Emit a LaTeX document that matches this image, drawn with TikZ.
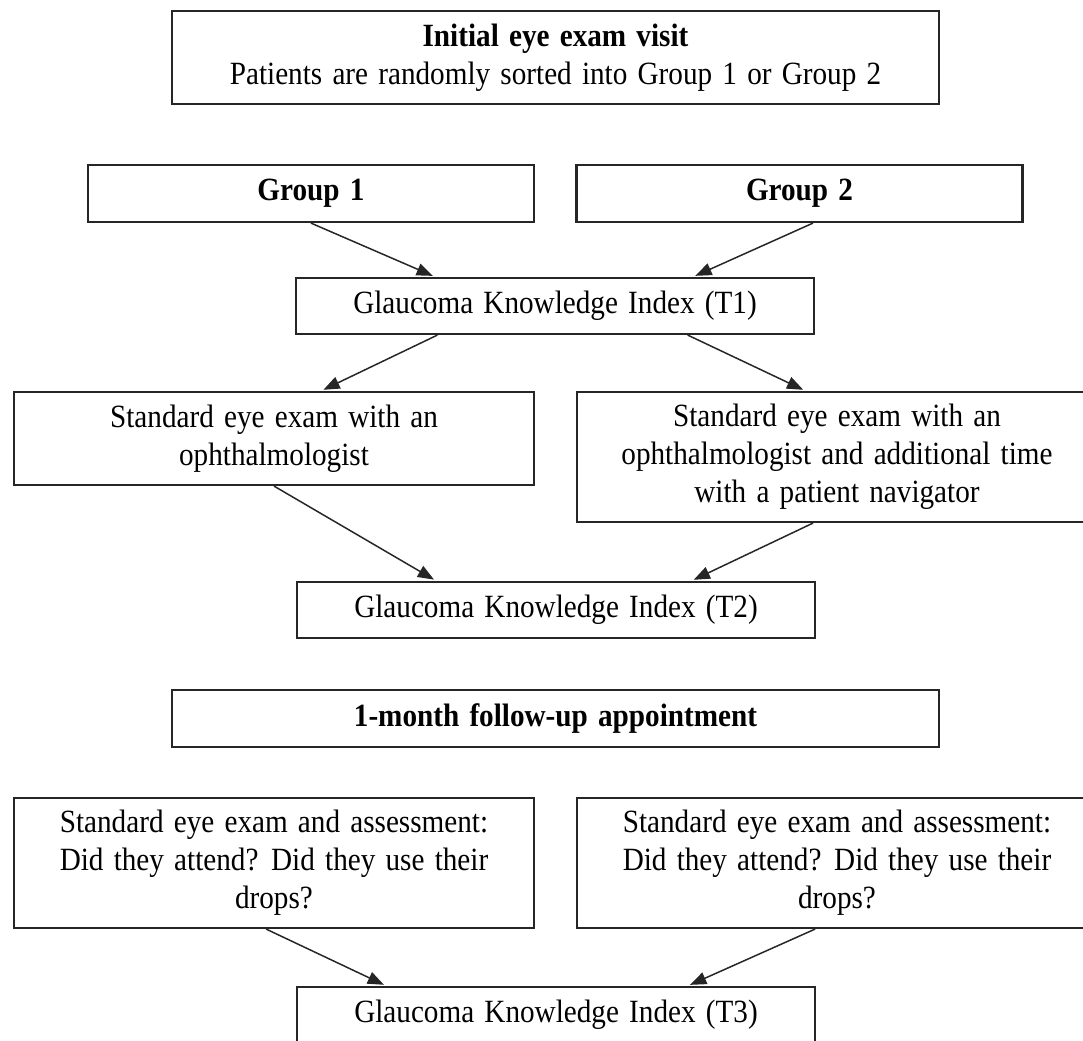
\documentclass[tikz,border=0pt]{standalone}
\usepackage{fontspec}
\setmainfont{Liberation Serif}[FakeStretch=0.9,WordSpace=1.4]
\usetikzlibrary{arrows.meta,calc}

\begin{document}
\begin{tikzpicture}[x=0.37pt,y=-0.37pt,
  box/.style={draw=black!85,line width=0.8pt,align=center,inner sep=2pt,
    font=\fontsize{12}{14}\selectfont},
  wide/.style={box,minimum width=283.8pt},
  half/.style={box,minimum width=192.4pt},
  gki/.style={box,minimum width=191.7pt,minimum height=20.7pt},
  arr/.style={draw=black!85,line width=0.55pt,-{Triangle[length=6pt,width=4.6pt]},shorten >=1pt}]
  \useasboundingbox (0,0) rectangle (1083,1040);
  \clip (0,0) rectangle (1083,1040);

  % first visit
  \node [wide, minimum height=34.4pt] (init) at (555.5,57.5)
    {\textbf{Initial eye exam visit}\\Patients are randomly sorted into Group 1 or Group 2};
  \node [box, minimum width=165pt, minimum height=21.1pt] (g1) at (311,193.5) {\textbf{Group 1}};
  \node [box, minimum width=165pt, minimum height=21.1pt] (g2) at (799.5,193.5) {\textbf{Group 2}};
  \node [gki] (t1) at (555,306) {Glaucoma Knowledge Index (T1)};
  \node [half, minimum height=34.4pt] (s1) at (274,438.5)
    {Standard eye exam with an\\ophthalmologist};
  \node [half, minimum height=48.1pt] (s2) at (837,457)
    {Standard eye exam with an\\ophthalmologist and additional time\\with a patient navigator};
  \node [gki] (t2) at (556,610) {Glaucoma Knowledge Index (T2)};

  % follow-up
  \node [wide, minimum height=21.1pt] (fu) at (555.5,718.5) {\textbf{1-month follow-up appointment}};
  \node [half, minimum height=48.1pt] (a1) at (274,863)
    {Standard eye exam and assessment:\\Did they attend? Did they use their\\drops?};
  \node [half, minimum height=48.1pt] (a2) at (837,863)
    {Standard eye exam and assessment:\\Did they attend? Did they use their\\drops?};
  \node [gki] (t3) at (556,1015) {Glaucoma Knowledge Index (T3)};

  \draw [arr] (g1.south) -- ($(t1.north west)!0.27!(t1.north east)$);
  \draw [arr] ($(g2.south west)!0.53!(g2.south east)$) -- ($(t1.north west)!0.765!(t1.north east)$);
  \draw [arr] ($(t1.south west)!0.274!(t1.south east)$) -- ($(s1.north west)!0.59!(s1.north east)$);
  \draw [arr] ($(t1.south west)!0.755!(t1.south east)$) -- ($(s2.north west)!0.44!(s2.north east)$);
  \draw [arr] (s1.south) -- ($(t2.north west)!0.27!(t2.north east)$);
  \draw [arr] ($(s2.south west)!0.454!(s2.south east)$) -- ($(t2.north west)!0.76!(t2.north east)$);
  \draw [arr] ($(a1.south west)!0.485!(a1.south east)$) -- ($(t3.north west)!0.174!(t3.north east)$);
  \draw [arr] ($(a2.south west)!0.458!(a2.south east)$) -- ($(t3.north west)!0.753!(t3.north east)$);
\end{tikzpicture}
\end{document}
